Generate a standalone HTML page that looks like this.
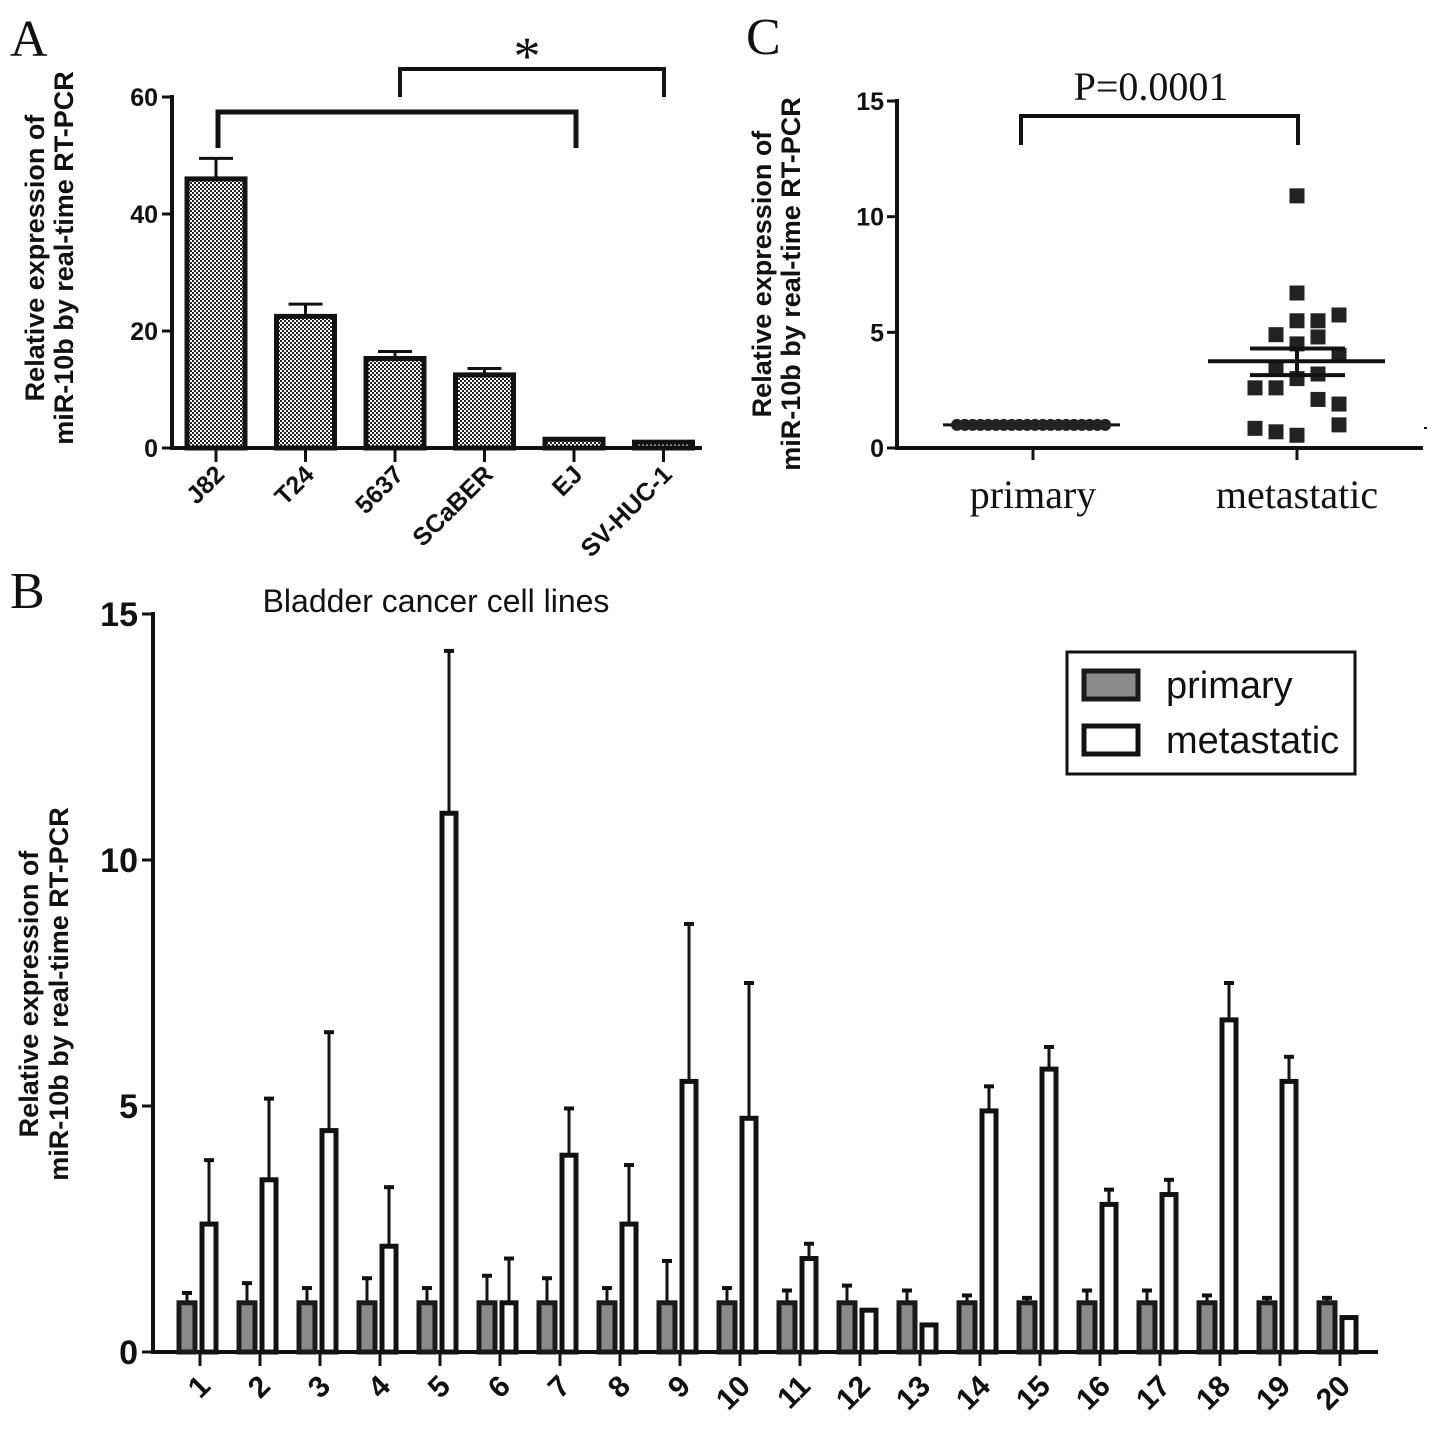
<!DOCTYPE html>
<html><head><meta charset="utf-8"><style>
html,body{margin:0;padding:0;background:#fff}
svg{display:block}
text{font-family:"Liberation Sans",sans-serif;fill:#111}
.serif{font-family:"Liberation Serif",serif}
.b{font-weight:bold}
</style></head><body>
<svg id="fig" width="1441" height="1443" viewBox="0 0 1441 1443" xmlns="http://www.w3.org/2000/svg">
<defs>
<pattern id="chk" width="4" height="4" patternUnits="userSpaceOnUse"><rect width="4" height="4" fill="#fff"/><rect width="2" height="2" fill="#222"/><rect x="2" y="2" width="2" height="2" fill="#222"/></pattern>
</defs>
<text class="serif" x="10" y="56" font-size="52">A</text>
<text class="serif" x="746" y="54" font-size="52">C</text>
<text class="serif" x="10" y="608" font-size="52">B</text>
<g id="gA"></g>
<g id="gC"></g>
<g id="gB"></g>
</svg>
<script>
// Panel A data
const aCats = ["J82","T24","5637","SCaBER","EJ","SV-HUC-1"];
const aVals = [46,22.5,15.3,12.5,1.5,1.0];
const aErrTop = [49.5,24.6,16.5,13.6,1.5,1.0];
const aTicks = [0,20,40,60];
// Panel C data
const cPrimary = [1,1,1,1,1,1,1,1,1,1,1,1,1,1,1,1,1,1,1,1];
const cMeta = [2.6,3.5,4.5,2.1,10.9,1.0,4.0,2.6,5.5,4.8,1.9,0.85,0.55,4.9,5.75,3.0,3.2,6.7,5.5,0.7];
const cMetaCol = [-1,-1,0,1,0,2,2,-2,0,1,2,-2,0,-1,2,0,1,0,1,-1];
const cMean = 3.75, cSemHi = 4.3, cSemLo = 3.15;
const cTicks = [0,5,10,15];
// Panel B data
const bCats = ["1","2","3","4","5","6","7","8","9","10","11","12","13","14","15","16","17","18","19","20"];
const bPrim = [1,1,1,1,1,1,1,1,1,1,1,1,1,1,1,1,1,1,1,1];
const bPrimErr = [1.2,1.4,1.3,1.5,1.3,1.55,1.5,1.3,1.85,1.3,1.25,1.35,1.25,1.15,1.1,1.25,1.25,1.15,1.1,1.1];
const bMeta = [2.6,3.5,4.5,2.15,10.95,1.0,4.0,2.6,5.5,4.75,1.9,0.85,0.55,4.9,5.75,3.0,3.2,6.75,5.5,0.7];
const bMetaErr = [3.9,5.15,6.5,3.35,14.25,1.9,4.95,3.8,8.7,7.5,2.2,0.85,0.55,5.4,6.2,3.3,3.5,7.5,6.0,0.7];
const bTicks = [0,5,10,15];

const NS="http://www.w3.org/2000/svg";
function mk(parent,tag,attrs,txt){const e=document.createElementNS(NS,tag);for(const k in attrs)e.setAttribute(k,attrs[k]);if(txt!==undefined)e.textContent=txt;parent.appendChild(e);return e;}

// ---------- Panel A ----------
(function(){
const g=document.getElementById('gA');
const y=v=>448-v*(351/60);
const x=i=>216+i*89.5;
let e;
e=mk(g,'line',{x1:172,y1:95,x2:172,y2:450,stroke:'#111','stroke-width':4});


e=mk(g,'line',{x1:170,y1:448,x2:702,y2:448,stroke:'#111','stroke-width':4});


aTicks.forEach(t=>{
 mk(g,'line',{x1:162,y1:y(t),x2:172,y2:y(t),stroke:'#111','stroke-width':3});
 e=mk(g,'text',{x:158,y:y(t)+9,'font-size':25,'text-anchor':'end','class':'b'},t);
 
 
});
aCats.forEach((c,i)=>{
 const cx=x(i);
 if(aErrTop[i]>aVals[i]+0.3){
  mk(g,'line',{x1:cx,y1:y(aVals[i]),x2:cx,y2:y(aErrTop[i]),stroke:'#111','stroke-width':3});
  mk(g,'line',{x1:cx-17,y1:y(aErrTop[i]),x2:cx+17,y2:y(aErrTop[i]),stroke:'#111','stroke-width':3});
 }
 e=mk(g,'rect',{x:cx-29,y:y(aVals[i]),width:58,height:448-y(aVals[i]),fill:'url(#chk)',stroke:'#111','stroke-width':5});
 
 
 mk(g,'line',{x1:cx,y1:448,x2:cx,y2:462,stroke:'#111','stroke-width':3});
 e=mk(g,'text',{x:cx+10,y:476,'font-size':25,'text-anchor':'end','class':'b',transform:`rotate(-45 ${cx+10} 476)`},c);
 
 
});
mk(g,'path',{d:`M218 148 V112 H576 V148`,fill:'none',stroke:'#111','stroke-width':5});
mk(g,'path',{d:`M400 97 V69 H664 V97`,fill:'none',stroke:'#111','stroke-width':4});
e=mk(g,'text',{x:527,y:74,'font-size':54,'text-anchor':'middle','class':'serif'},'*');


e=mk(g,'text',{'font-size':27,'class':'b','text-anchor':'middle',transform:'translate(44 258) rotate(-90)'},'Relative  expression of');


e=mk(g,'text',{'font-size':27,'class':'b','text-anchor':'middle',transform:'translate(73 258) rotate(-90)'},'miR-10b by real-time RT-PCR');


e=mk(g,'text',{x:436,y:612,'font-size':32,'text-anchor':'middle'},'Bladder cancer cell lines');


})();

// ---------- Panel C ----------
(function(){
const g=document.getElementById('gC');
const y=v=>448-v*(347/15);
let e;
e=mk(g,'line',{x1:897,y1:99,x2:897,y2:450,stroke:'#111','stroke-width':4});


e=mk(g,'line',{x1:895,y1:448,x2:1423,y2:448,stroke:'#111','stroke-width':4});


cTicks.forEach(t=>{
 mk(g,'line',{x1:887,y1:y(t),x2:897,y2:y(t),stroke:'#111','stroke-width':3});
 e=mk(g,'text',{x:884,y:y(t)+9,'font-size':25,'text-anchor':'end','class':'b'},t);
 
 
});
[[1033,'primary'],[1297,'metastatic']].forEach(([cx,l])=>{
 mk(g,'line',{x1:cx,y1:448,x2:cx,y2:460,stroke:'#111','stroke-width':3});
 e=mk(g,'text',{x:cx,y:508,'font-size':40,'text-anchor':'middle','class':'serif'},l);
 
 
});
mk(g,'line',{x1:943,y1:y(1),x2:1120,y2:y(1),stroke:'#111','stroke-width':3});
cPrimary.forEach((v,i)=>{
 e=mk(g,'circle',{cx:957+i*7.8,cy:y(v),r:6,fill:'#222'});
 
 
});
cMeta.forEach((v,i)=>{
 const cx=1297+cMetaCol[i]*21;
 e=mk(g,'rect',{x:cx-7.5,y:y(v)-7.5,width:15,height:15,fill:'#222'});
 
 
});
e=mk(g,'line',{x1:1208,y1:y(cMean),x2:1385,y2:y(cMean),stroke:'#111','stroke-width':4});


mk(g,'line',{x1:1297,y1:y(cSemHi),x2:1297,y2:y(cSemLo),stroke:'#111','stroke-width':4});
mk(g,'line',{x1:1250,y1:y(cSemHi),x2:1345,y2:y(cSemHi),stroke:'#111','stroke-width':4});
mk(g,'line',{x1:1250,y1:y(cSemLo),x2:1345,y2:y(cSemLo),stroke:'#111','stroke-width':4});
mk(g,'path',{d:'M1021 145 V116 H1298 V145',fill:'none',stroke:'#111','stroke-width':4});
e=mk(g,'text',{x:1151,y:100,'font-size':40,'text-anchor':'middle','class':'serif'},'P=0.0001');


mk(g,'rect',{x:1424,y:427,width:3,height:2,fill:'#111'});
e=mk(g,'text',{'font-size':27,'class':'b','text-anchor':'middle',transform:'translate(771 274) rotate(-90)'},'Relative  expression of');


e=mk(g,'text',{'font-size':27,'class':'b','text-anchor':'middle',transform:'translate(800 284) rotate(-90)'},'miR-10b by real-time RT-PCR');


})();

// ---------- Panel B ----------
(function(){
const g=document.getElementById('gB');
const y=v=>1352-v*(738/15);
const x=i=>200+i*60;
let e;
e=mk(g,'line',{x1:153,y1:612,x2:153,y2:1354,stroke:'#111','stroke-width':4});


e=mk(g,'line',{x1:151,y1:1352,x2:1378,y2:1352,stroke:'#111','stroke-width':4});


bTicks.forEach(t=>{
 mk(g,'line',{x1:142,y1:y(t),x2:153,y2:y(t),stroke:'#111','stroke-width':3});
 e=mk(g,'text',{x:138,y:y(t)+12,'font-size':34,'text-anchor':'end','class':'b'},t);
 
 
});
function errbar(cx,v0,v1){
 if(v1-v0<0.05)return;
 mk(g,'line',{x1:cx,y1:y(v0),x2:cx,y2:y(v1),stroke:'#111','stroke-width':3});
 mk(g,'line',{x1:cx-5,y1:y(v1),x2:cx+5,y2:y(v1),stroke:'#111','stroke-width':4});
}
bCats.forEach((c,i)=>{
 const t=x(i);
 const pc=t-13, mc=t+9;
 errbar(pc,bPrim[i],bPrimErr[i]);
 errbar(mc,bMeta[i],bMetaErr[i]);
 e=mk(g,'rect',{x:pc-8,y:y(bPrim[i]),width:16,height:1352-y(bPrim[i]),fill:'#8a8a8a',stroke:'#1a1a1a','stroke-width':5});
 
 
 e=mk(g,'rect',{x:mc-7,y:y(bMeta[i]),width:14,height:1352-y(bMeta[i]),fill:'#fff',stroke:'#111','stroke-width':5});
 
 
 mk(g,'line',{x1:t,y1:1352,x2:t,y2:1366,stroke:'#111','stroke-width':3});
 e=mk(g,'text',{x:t+12,y:1388,'font-size':30,'text-anchor':'end','class':'b',transform:`rotate(-45 ${t+12} 1388)`},c);
 
 
});
e=mk(g,'rect',{x:1067,y:652,width:288,height:122,fill:'#fff',stroke:'#111','stroke-width':3});


e=mk(g,'rect',{x:1084,y:671,width:54,height:28,fill:'#8a8a8a',stroke:'#1a1a1a','stroke-width':5});


e=mk(g,'text',{x:1166,y:698,'font-size':38},'primary');


e=mk(g,'rect',{x:1084,y:726,width:54,height:28,fill:'#fff',stroke:'#111','stroke-width':5});


e=mk(g,'text',{x:1166,y:753,'font-size':38},'metastatic');


e=mk(g,'text',{'font-size':27,'class':'b','text-anchor':'middle',transform:'translate(38 994) rotate(-90)'},'Relative  expression of');


e=mk(g,'text',{'font-size':27,'class':'b','text-anchor':'middle',transform:'translate(68 994) rotate(-90)'},'miR-10b by real-time RT-PCR');


})();
</script>
</body></html>
